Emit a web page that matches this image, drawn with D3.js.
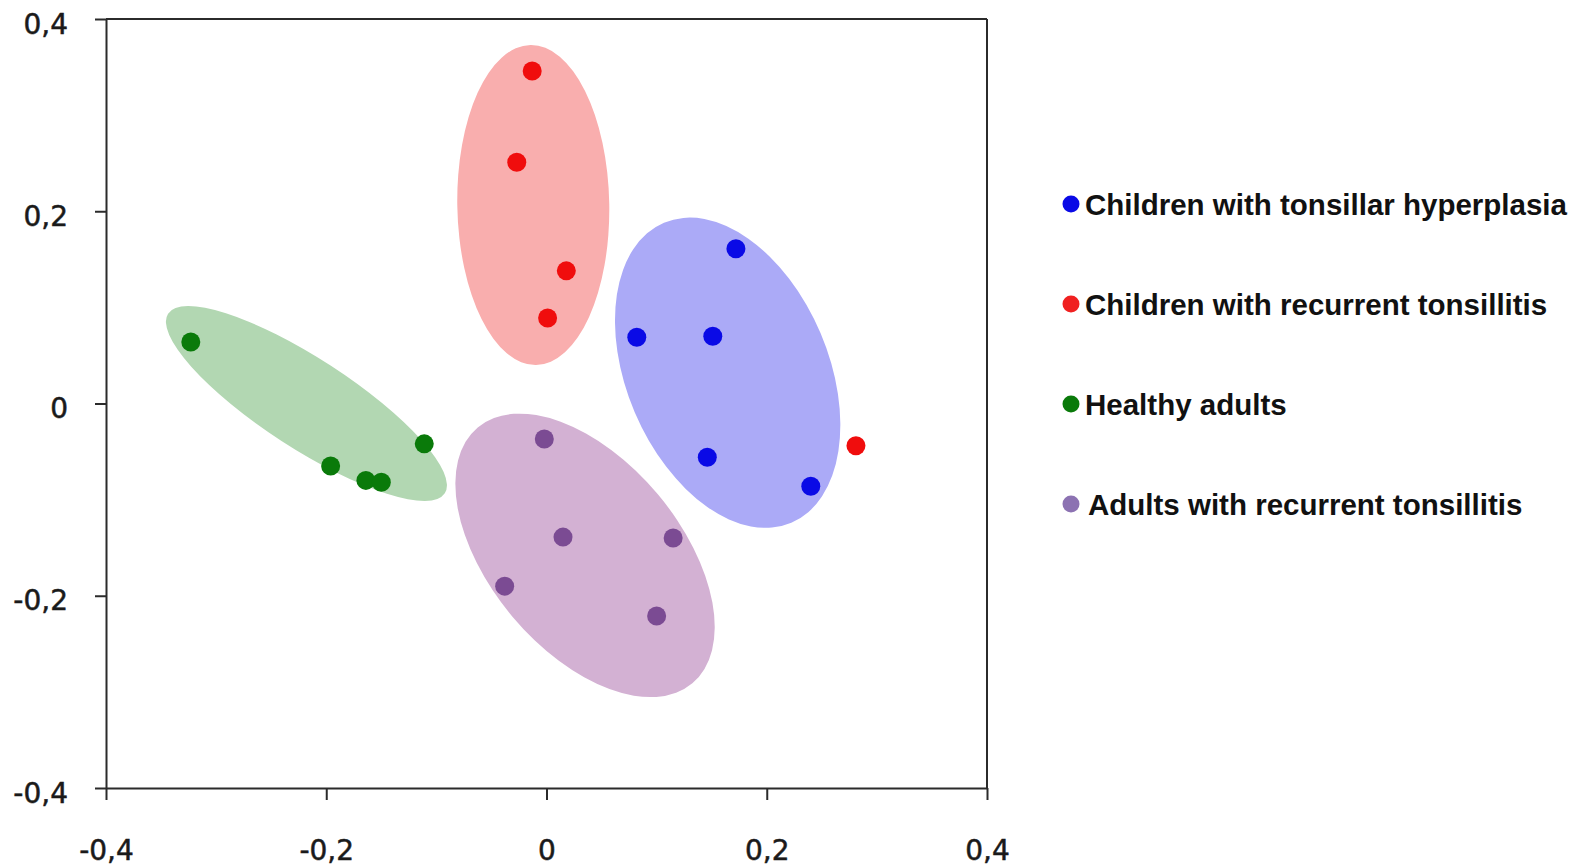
<!DOCTYPE html>
<html>
<head>
<meta charset="utf-8">
<script src="https://cdn.jsdelivr.net/npm/d3@7"></script>
<style>
  html, body { margin: 0; padding: 0; background: #fff; }
  svg { display: block; }
</style>
</head>
<body>
<svg id="chart" width="1592" height="868"></svg>
<script>
// ---- Data ----
const groups = [
  "Children with tonsillar hyperplasia",
  "Children with recurrent tonsillitis",
  "Healthy adults",
  "Adults with recurrent tonsillitis"
];
const axisTicks = [-0.4, -0.2, 0, 0.2, 0.4];
const tickLabels = ["-0,4", "-0,2", "0", "0,2", "0,4"];

// points per group: [x, y]
const hyperplasiaPts = [[0.172, 0.161], [0.082, 0.069], [0.151, 0.070], [0.146, -0.056], [0.240, -0.086]];
const childRecurrentPts = [[-0.013, 0.346], [-0.027, 0.251], [0.018, 0.138], [0.001, 0.089], [0.281, -0.044]];
const healthyPts = [[-0.323, 0.064], [-0.111, -0.042], [-0.196, -0.065], [-0.164, -0.080], [-0.150, -0.082]];
const adultRecurrentPts = [[-0.002, -0.037], [0.015, -0.139], [0.115, -0.140], [-0.038, -0.190], [0.100, -0.221]];

// group ellipses: centre (data units), semi-axes (x-scale data units), rotation (deg)
const ellipseCX = [0.1645, -0.012, -0.218, 0.035];
const ellipseCY = [0.032, 0.2065, 0.0, -0.158];
const ellipseMajor = [0.148, 0.1453, 0.1498, 0.1516];
const ellipseMinor = [0.0917, 0.069, 0.0409, 0.0863];
const ellipseAngle = [67, 89, 33, 50];

// ---- Styles ----
const pointColors = ["#0a0ae6", "#f00d0d", "#0a7a0a", "#7b4b93"];
const legendColors = ["#0a0ae6", "#f02020", "#0a7a0a", "#8c72b2"];
const ellipseColors = ["#abaaf7", "#f9aeae", "#b2d7b2", "#d3b1d3"];

const svg = d3.select("#chart");
const x = d3.scaleLinear().domain([-0.4, 0.4]).range([106, 987]);
const y = d3.scaleLinear().domain([-0.4, 0.4]).range([788, 19]);

// ellipses
const eg = svg.append("g");
groups.forEach((g, i) => {
  const cx = x(ellipseCX[i]), cy = y(ellipseCY[i]);
  const rx = x(ellipseCX[i] + ellipseMajor[i]) - cx;
  const ry = x(ellipseCX[i] + ellipseMinor[i]) - cx;
  eg.append("ellipse")
    .attr("cx", cx).attr("cy", cy)
    .attr("rx", rx).attr("ry", ry)
    .attr("transform", `rotate(${ellipseAngle[i]},${cx},${cy})`)
    .attr("fill", ellipseColors[i]);
});

// axes frame
const axisColor = "#2b2b2b";
const ax = svg.append("g").attr("stroke", axisColor).attr("stroke-width", 2).attr("fill", "none");
ax.append("line").attr("x1", x(-0.4)).attr("x2", x(0.4)).attr("y1", y(0.4)).attr("y2", y(0.4));
ax.append("line").attr("x1", x(0.4)).attr("x2", x(0.4)).attr("y1", y(0.4)).attr("y2", y(-0.4));

const xAxis = d3.axisBottom(x).tickValues(axisTicks).tickSizeInner(12).tickSizeOuter(0).tickFormat((d, i) => tickLabels[i]);
const yAxis = d3.axisLeft(y).tickValues(axisTicks).tickSizeInner(11).tickSizeOuter(0).tickFormat((d, i) => tickLabels[i]);

const gx = svg.append("g").attr("transform", `translate(0,${y(-0.4)})`).call(xAxis);
const gy = svg.append("g").attr("transform", `translate(${x(-0.4)},0)`).call(yAxis);
[gx, gy].forEach(g => {
  g.select(".domain").attr("stroke", axisColor).attr("stroke-width", 2);
  g.selectAll(".tick line").attr("stroke", axisColor).attr("stroke-width", 2);
  g.selectAll(".tick text")
    .attr("fill", "#1a1a1a")
    .attr("stroke", "#1a1a1a")
    .attr("stroke-width", 0.5)
    .style("font-family", "'DejaVu Sans', sans-serif")
    .style("font-size", "28px");
});
gx.selectAll(".tick text").attr("dy", null).attr("y", 72);
gy.selectAll(".tick text").attr("dy", null).attr("x", -38).attr("y", 14);

// points
const allPts = [hyperplasiaPts, childRecurrentPts, healthyPts, adultRecurrentPts];
const pg = svg.append("g");
allPts.forEach((pts, i) => {
  pg.selectAll(null).data(pts).enter().append("circle")
    .attr("cx", d => x(d[0])).attr("cy", d => y(d[1]))
    .attr("r", 9.5)
    .attr("fill", pointColors[i]);
});

// legend
const legY = d3.scalePoint().domain(groups).range([215, 515]);
const lg = svg.append("g");
groups.forEach((g, i) => {
  lg.append("circle").attr("cx", 1071).attr("cy", legY(g) - 11).attr("r", 8.5).attr("fill", legendColors[i]);
  lg.append("text").attr("x", i === 3 ? 1088 : 1085).attr("y", legY(g))
    .text(g)
    .attr("fill", "#111")
    .style("font-family", "'Liberation Sans', Arial, sans-serif")
    .style("font-weight", "bold")
    .style("font-size", "29.5px");
});
</script>
</body>
</html>
